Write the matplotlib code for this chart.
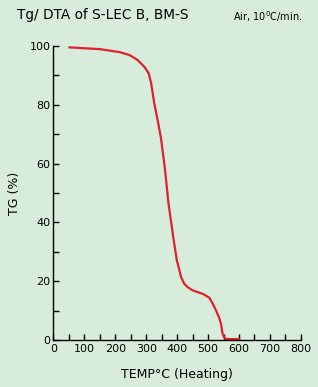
import numpy as np
import matplotlib.pyplot as plt

temp = [52, 100, 150, 213, 246, 272, 294, 308, 316, 326, 337, 348, 361, 372, 388, 399, 413, 423, 435, 450, 466, 483, 504, 515, 526, 535, 542, 547, 552, 558, 570, 585, 601]
tg = [99.5, 99.2, 98.9, 97.9, 96.9, 95.2, 92.9, 90.7, 87.3, 80.5, 74.8, 68.5, 57.8, 46.5, 34.6, 27.1, 21.4, 19.1, 17.9, 16.9, 16.3, 15.7, 14.4, 12.4, 10.0, 7.8, 5.5, 2.1, 0.9, 0.4, 0.3, 0.3, 0.3]

bg = '#d8ecdc'
fig = plt.figure(figsize=(3.18, 3.87), dpi=100, facecolor=bg)
ax = fig.add_axes([0.168, 0.1214, 0.778, 0.760], facecolor=bg)

ax.plot(temp, tg, color='#e0202a', lw=1.6, solid_joinstyle='round')

ax.set_xlim(0, 800)
ax.set_ylim(0, 100)
ax.spines['top'].set_visible(False)
ax.spines['right'].set_visible(False)
for s in ['left', 'bottom']:
    ax.spines[s].set_linewidth(1.0)

ax.set_xticks(np.arange(0, 801, 100))
ax.set_xticks(np.arange(50, 801, 100), minor=True)
ax.set_yticks(np.arange(0, 101, 20))
ax.set_yticks(np.arange(10, 101, 20), minor=True)
ax.tick_params(which='both', direction='in', length=4, width=1, labelsize=8, pad=2)
ax.tick_params(axis='x', pad=3)

ax.set_xlabel('TEMP°C (Heating)', fontsize=9, labelpad=10)
ax.set_ylabel('TG (%)', fontsize=9, labelpad=6)

fig.text(0.053, 0.962, 'Tg/ DTA of S-LEC B, BM-S', fontsize=9.8, va='center', ha='left')
fig.text(0.95, 0.958, 'Air, 10$^0$C/min.', fontsize=7, va='center', ha='right')

fig.savefig('out.png', dpi=100, facecolor=bg)
